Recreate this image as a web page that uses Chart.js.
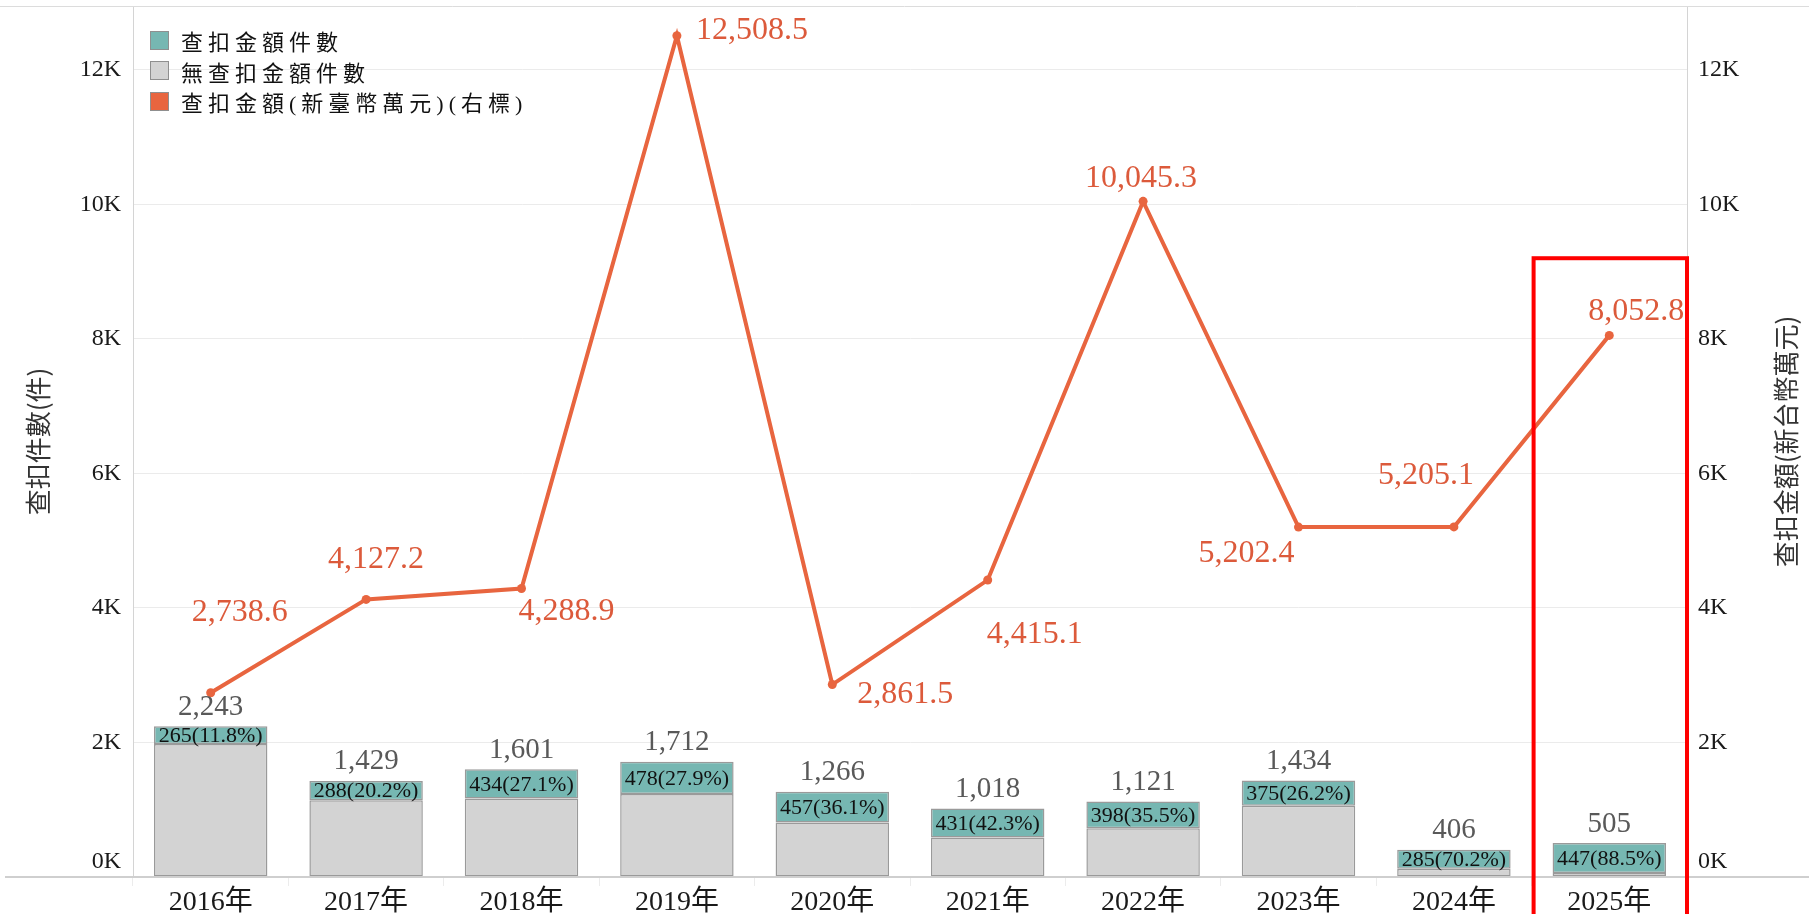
<!DOCTYPE html>
<html>
<head>
<meta charset="utf-8">
<script src="https://cdn.jsdelivr.net/npm/chart.js@4.4.0/dist/chart.umd.min.js"></script>
<style>
  html, body { margin: 0; padding: 0; background: #fff; }
  #wrap { position: relative; width: 1809px; height: 914px; }
  #legend { position: absolute; left: 150px; top: 25px; font-family: "Liberation Serif", "Noto Sans CJK TC", serif; font-size: 22px; color: #111; letter-spacing: 5px; }
  #legend .row { height: 30.5px; display: flex; align-items: center; }
  #legend .box { width: 19px; height: 19px; border: 1.5px solid #8f8f8f; box-sizing: border-box; margin-right: 12px; }
</style>
</head>
<body>
<div id="wrap">
  <canvas id="chart" width="1809" height="914"></canvas>
  <div id="legend">
    <div class="row"><span class="box" style="background:#76b7b2"></span>查扣金額件數</div>
    <div class="row"><span class="box" style="background:#d3d3d3"></span>無查扣金額件數</div>
    <div class="row"><span class="box" style="background:#e8653f"></span>查扣金額(新臺幣萬元)(右標)</div>
  </div>
</div>
<script>
// data
const years = ['2016年', '2017年', '2018年', '2019年', '2020年', '2021年', '2022年', '2023年', '2024年', '2025年'];
const seizedCases = [265, 288, 434, 478, 457, 431, 398, 375, 285, 447];
const noSeizedCases = [1978, 1141, 1167, 1234, 809, 587, 723, 1059, 121, 58];
const totalCases = [2243, 1429, 1601, 1712, 1266, 1018, 1121, 1434, 406, 505];
const seizedAmount = [2738.6, 4127.2, 4288.9, 12508.5, 2861.5, 4415.1, 10045.3, 5202.4, 5205.1, 8052.8];
const axisTicks = [0, 2000, 4000, 6000, 8000, 10000, 12000];

// where each line label sits relative to its point (px)
const lineLabelDx = [29, 10, 45, 75, 73, 47, -2, -52, -28, 27];
const lineLabelDy = [-80, -40, 23, -5, 10, 55, -23, 27, -51, -24];

const serif = '"Liberation Serif", "Noto Sans CJK TC", serif';
const axisMax = 12950;

const fmt1 = v => v.toLocaleString('en-US', {minimumFractionDigits: 1, maximumFractionDigits: 1});

const drawExtras = {
  id: 'drawExtras',
  afterDatasetsDraw(chart) {
    const ctx = chart.ctx;
    const x = chart.scales.x, y = chart.scales.y, y2 = chart.scales.y2;
    const area = chart.chartArea;
    ctx.save();

    // top frame + full width base line
    ctx.strokeStyle = '#dcdcdc';
    ctx.lineWidth = 1;
    ctx.beginPath(); ctx.moveTo(0, area.top + 0.5); ctx.lineTo(chart.width, area.top + 0.5); ctx.stroke();
    ctx.strokeStyle = '#cfcfcf';
    ctx.lineWidth = 2;
    ctx.beginPath(); ctx.moveTo(5, area.bottom); ctx.lineTo(chart.width, area.bottom); ctx.stroke();

    // tick labels on both sides
    ctx.font = '24px ' + serif;
    ctx.fillStyle = '#1a1a1a';
    ctx.textBaseline = 'middle';
    axisTicks.forEach(v => {
      let py = y.getPixelForValue(v);
      if (v === 0) py -= 15;
      const txt = (v / 1000) + 'K';
      ctx.textAlign = 'right';
      ctx.fillText(txt, area.left - 12, py);
      ctx.textAlign = 'left';
      ctx.fillText(txt, area.right + 11, y2.getPixelForValue(v) - (v === 0 ? 15 : 0));
    });

    // axis titles
    ctx.font = '26px "Noto Sans CJK TC", sans-serif';
    ctx.fillStyle = '#333';
    ctx.textAlign = 'center';
    const midY = (area.top + area.bottom) / 2;
    ctx.save(); ctx.translate(38, midY); ctx.rotate(-Math.PI / 2); ctx.fillText('查扣件數(件)', 0, 0); ctx.restore();
    ctx.save(); ctx.translate(1786, midY); ctx.rotate(-Math.PI / 2); ctx.fillText('查扣金額(新台幣萬元)', 0, 0); ctx.restore();

    // bar labels
    const tealMeta = chart.getDatasetMeta(1);
    tealMeta.data.forEach((bar, i) => {
      ctx.textAlign = 'center';
      ctx.font = '22px ' + serif;
      ctx.fillStyle = '#111';
      const pct = (seizedCases[i] / totalCases[i] * 100).toFixed(1);
      ctx.fillText(seizedCases[i] + '(' + pct + '%)', bar.x, (bar.y + bar.base) / 2 + 1);
      ctx.font = '29px ' + serif;
      ctx.fillStyle = '#595959';
      ctx.fillText(totalCases[i].toLocaleString('en-US'), bar.x, bar.y - 19);
    });

    // line labels
    const lineMeta = chart.getDatasetMeta(2);
    ctx.font = '32px ' + serif;
    ctx.fillStyle = '#dc5a3b';
    ctx.textAlign = 'center';
    lineMeta.data.forEach((pt, i) => {
      ctx.fillText(fmt1(seizedAmount[i]), pt.x + lineLabelDx[i], pt.y + lineLabelDy[i]);
    });

    // highlight box around the latest year
    const band = x.width / years.length;
    const cx = x.getPixelForValue(years.length - 1);
    const boxTop = y2.getPixelForValue(9200);
    ctx.strokeStyle = '#ff0000';
    ctx.lineWidth = 4;
    ctx.strokeRect(cx - band / 2 + 2, boxTop, band - 2, chart.height - boxTop + 10);

    ctx.restore();
  }
};

new Chart(document.getElementById('chart'), {
  data: {
    labels: years,
    datasets: [
      {
        type: 'bar',
        label: '無查扣金額件數',
        data: noSeizedCases,
        backgroundColor: '#d3d3d3',
        borderColor: '#9a9a9a',
        borderWidth: 1.5,
        borderSkipped: false,
        stack: 'cases',
        yAxisID: 'y',
        order: 2
      },
      {
        type: 'bar',
        label: '查扣金額件數',
        data: seizedCases,
        backgroundColor: '#76b7b2',
        borderColor: '#9a9a9a',
        borderWidth: 1.5,
        borderSkipped: false,
        stack: 'cases',
        yAxisID: 'y',
        order: 2
      },
      {
        type: 'line',
        label: '查扣金額(新臺幣萬元)(右標)',
        data: seizedAmount,
        borderColor: '#e8653f',
        backgroundColor: '#e8653f',
        borderWidth: 4,
        pointRadius: 4.5,
        pointBackgroundColor: '#e8653f',
        pointBorderWidth: 0,
        tension: 0,
        yAxisID: 'y2',
        order: 1
      }
    ]
  },
  options: {
    responsive: false,
    animation: false,
    devicePixelRatio: 1,
    layout: { padding: { top: 6 } },
    plugins: { legend: { display: false }, tooltip: { enabled: false } },
    datasets: { bar: { categoryPercentage: 1, barPercentage: 0.73 } },
    scales: {
      x: {
        stacked: true,
        grid: { offset: true, drawOnChartArea: false, drawTicks: true, tickLength: 9, color: '#ececec' },
        border: { display: false },
        ticks: { font: { family: serif, size: 28 }, color: '#1a1a1a', padding: 0, maxRotation: 0 },
        afterFit(scale) { scale.height = 37; }
      },
      y: {
        stacked: true,
        position: 'left',
        min: 0,
        max: axisMax,
        afterBuildTicks(scale) { scale.ticks = axisTicks.map(v => ({ value: v })); },
        grid: { color: '#ebebeb', drawTicks: false },
        border: { display: true, color: '#d4d4d4', width: 1 },
        ticks: { display: false },
        afterFit(scale) { scale.width = 133; }
      },
      y2: {
        position: 'right',
        min: 0,
        max: axisMax,
        afterBuildTicks(scale) { scale.ticks = axisTicks.map(v => ({ value: v })); },
        grid: { drawOnChartArea: false, drawTicks: false },
        border: { display: true, color: '#d4d4d4', width: 1 },
        ticks: { display: false },
        afterFit(scale) { scale.width = 122; }
      }
    }
  },
  plugins: [drawExtras]
});
</script>
</body>
</html>
